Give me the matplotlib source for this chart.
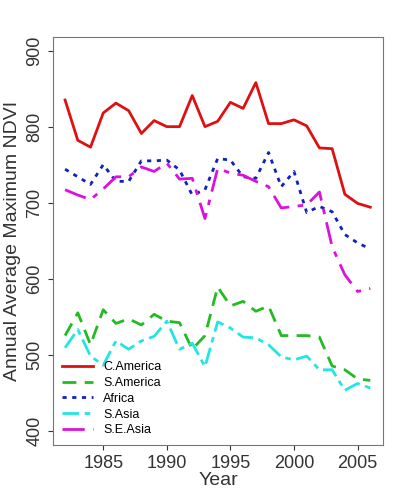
import matplotlib
matplotlib.use("Agg")
import matplotlib.pyplot as plt

plt.rcParams["font.family"] = ["Liberation Sans", "DejaVu Sans"]

years = list(range(1982, 2007))
c_america = [835, 782, 773, 818, 831, 821, 791, 808, 800, 800, 841, 800, 807, 832, 824,
             858, 804, 804, 809, 801, 772, 771, 711, 699, 694]
s_america = [525, 555, 513, 559, 541, 547, 539, 553, 544, 542, 507, 525, 589, 564, 570,
             557, 564, 525, 525, 525, 523, 485, 480, 468, 466]
africa = [744, 734, 724, 750, 728, 728, 755, 755, 756, 743, 710, 717, 758, 756, 734,
          732, 766, 721, 741, 687, 695, 688, 658, 647, 639]
s_asia = [509, 533, 498, 486, 518, 507, 518, 524, 544, 507, 515, 484, 543, 535, 523,
          522, 513, 497, 493, 498, 480, 480, 453, 462, 456]
se_asia = [717, 710, 704, 718, 734, 734, 747, 741, 752, 731, 732, 679, 745, 739, 736,
           728, 721, 693, 695, 697, 714, 642, 605, 583, 587]

fig = plt.figure(figsize=(4.16, 5.0), dpi=100)
ax = fig.add_axes([53 / 416, 55 / 500, 330 / 416, 408 / 500])

ax.plot(years, c_america, color="#dd1111", lw=2.0, label="C.America")
ax.plot(years, s_america, color="#22bb22", lw=2.0, dashes=(5, 3), label="S.America")
ax.plot(years, africa, color="#1122bb", lw=2.0, dashes=(1.5, 2), label="Africa")
ax.plot(years, s_asia, color="#22e5e5", lw=2.0, dashes=(6, 2, 2, 2), label="S.Asia")
ax.plot(years, se_asia, color="#dd11dd", lw=2.0, dashes=(8, 3, 2, 3), label="S.E.Asia")

ax.set_xlim(1981.05, 2007.0)
ax.set_ylim(381, 918)
ax.set_xticks([1985, 1990, 1995, 2000, 2005])
ax.set_yticks([400, 500, 600, 700, 800, 900])
ax.tick_params(labelsize=13, colors="#333333")
ax.tick_params(axis="y", labelrotation=90)
for lbl in ax.get_yticklabels():
    lbl.set_va("center")
for s in ax.spines.values():
    s.set_color("#777777")
ax.set_xlabel("Year", fontsize=14, color="#333333", labelpad=0)
ax.set_ylabel("Annual Average Maximum NDVI", fontsize=14, color="#333333")
ax.legend(loc="lower left", frameon=False, fontsize=9, handlelength=2.5,
          labelspacing=0.3, borderaxespad=0.3)

fig.savefig("out.png", dpi=100)
